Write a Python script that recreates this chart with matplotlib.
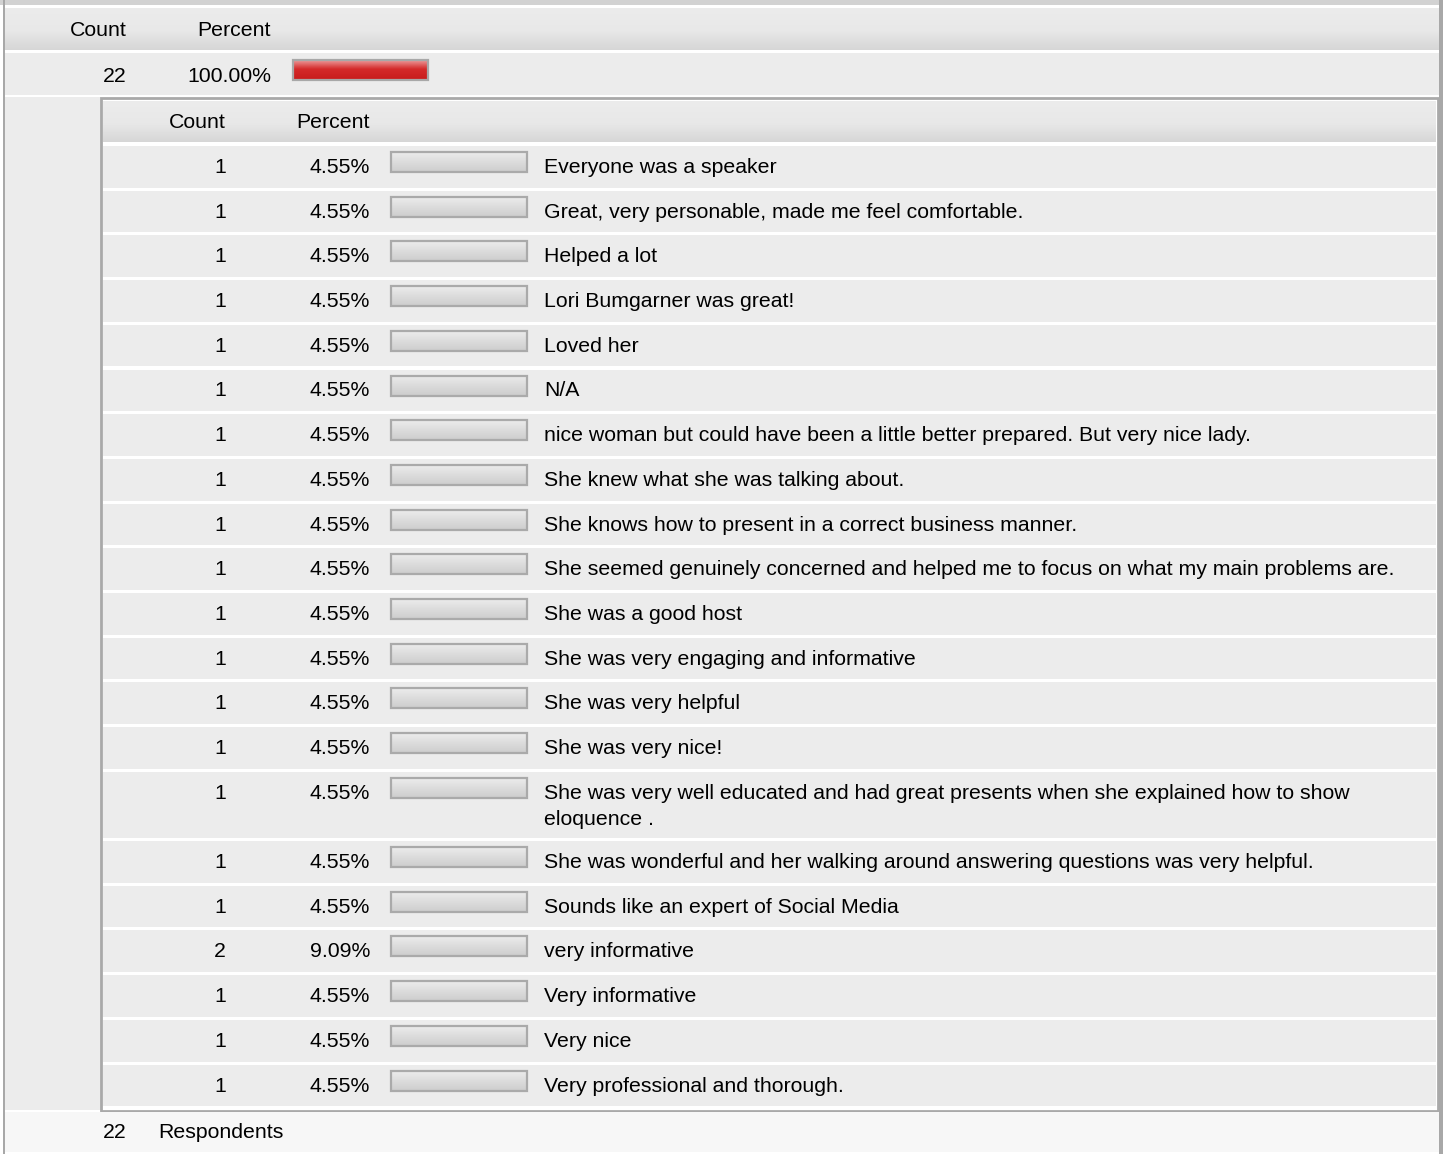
import matplotlib.pyplot as plt
import numpy as np
from matplotlib.colors import LinearSegmentedColormap
from matplotlib.patches import Rectangle

plt.rcParams['font.family'] = ['Liberation Sans', 'DejaVu Sans']

# data
total = 22
labels = [
    "Everyone was a speaker",
    "Great, very personable, made me feel comfortable.",
    "Helped a lot",
    "Lori Bumgarner was great!",
    "Loved her",
    "N/A",
    "nice woman but could have been a little better prepared. But very nice lady.",
    "She knew what she was talking about.",
    "She knows how to present in a correct business manner.",
    "She seemed genuinely concerned and helped me to focus on what my main problems are.",
    "She was a good host",
    "She was very engaging and informative",
    "She was very helpful",
    "She was very nice!",
    "She was very well educated and had great presents when she explained how to show\neloquence .",
    "She was wonderful and her walking around answering questions was very helpful.",
    "Sounds like an expert of Social Media",
    "very informative",
    "Very informative",
    "Very nice",
    "Very professional and thorough.",
]
counts = [1, 1, 1, 1, 1, 1, 1, 1, 1, 1, 1, 1, 1, 1, 1, 1, 1, 2, 1, 1, 1]

W, H = 1443, 1154
fig = plt.figure(figsize=(W / 100, H / 100), dpi=100)
ax = fig.add_axes([0, 0, 1, 1])
ax.set_xlim(0, W)
ax.set_ylim(H, 0)
ax.axis('off')

FS = 15.3
ROW_BG = '#ececec'


def box(x0, y0, x1, y1, color, z=1, ec='none', lw=0):
    ax.add_patch(Rectangle((x0, y0), x1 - x0, y1 - y0, facecolor=color,
                           edgecolor=ec, linewidth=lw, zorder=z))


def gradient(x0, y0, x1, y1, stops, z=2, edge=None):
    cmap = LinearSegmentedColormap.from_list('g', stops)
    grad = np.linspace(0, 1, 64).reshape(-1, 1)
    ax.imshow(grad, cmap=cmap, extent=(x0, x1, y1, y0), aspect='auto',
              interpolation='bilinear', zorder=z)
    if edge:
        ax.add_patch(Rectangle((x0, y0), x1 - x0, y1 - y0, facecolor='none',
                               edgecolor=edge, linewidth=1.6, zorder=z + 0.1))


header_stops = [(0, '#ececec'), (0.55, '#e8e8e8'), (1, '#d6d6d6')]
gray_bar = [(0, '#ececec'), (0.5, '#dcdcdc'), (1, '#cdcdcd')]
red_bar = [(0, '#ec9a9a'), (0.45, '#d42a2a'), (1, '#c81c1c')]

# background
box(0, 0, W, H, 'white', z=0)
box(0, 0, W, 5, '#d2d2d2')
# outer header
gradient(5, 8, 1439, 50, header_stops)
ax.text(127, 31, "Count", ha='right', va='center', fontsize=FS)
ax.text(271, 31, "Percent", ha='right', va='center', fontsize=FS)
# total row
box(5, 53, 1439, 95, ROW_BG)
ax.text(127, 76, str(total), ha='right', va='center', fontsize=FS)
ax.text(271, 76, f"{total / total * 100:.2f}%", ha='right', va='center', fontsize=FS)
bar_x0, bar_w = 293, 135
gradient(bar_x0, 60, bar_x0 + bar_w * total / total, 80, red_bar, z=3, edge='#a8a8a8')

# left strip under total row
box(5, 97, 101, 1110, ROW_BG)
# inner table frame
box(101, 98, 1438, 1111, 'white', z=1, ec='#a9a9a9', lw=2)
gradient(103, 101, 1436, 142, header_stops)
ax.text(226, 123, "Count", ha='right', va='center', fontsize=FS)
ax.text(370, 123, "Percent", ha='right', va='center', fontsize=FS)

# rows
y = 146
inner_x0, inner_w = 391, 136
for lab, c in zip(labels, counts):
    lines = lab.split("\n")
    h = 41.7 + 24.5 * (len(lines) - 1)
    box(103, y, 1436, y + h, ROW_BG)
    ty = y + 21.5
    ax.text(226, ty, str(c), ha='right', va='center', fontsize=FS)
    ax.text(370, ty, f"{c / total * 100:.2f}%", ha='right', va='center', fontsize=FS)
    gradient(inner_x0, y + 6, inner_x0 + inner_w, y + 26, gray_bar, z=3, edge='#aaaaaa')
    for i, ln in enumerate(lines):
        ax.text(544, ty + 26 * i, ln, ha='left', va='center', fontsize=FS)
    y += h + 3

# outer borders
box(3, 0, 5, H, '#a8a8a8', z=5)
box(1439, 0, 1443, H, '#a8a8a8', z=5)

# footer
box(5, 1112, 1439, 1152, '#f7f7f7')
ax.text(127, 1133, str(total), ha='right', va='center', fontsize=FS)
ax.text(158, 1133, "Respondents", ha='left', va='center', fontsize=FS)

fig.savefig("out.png", dpi=100)
